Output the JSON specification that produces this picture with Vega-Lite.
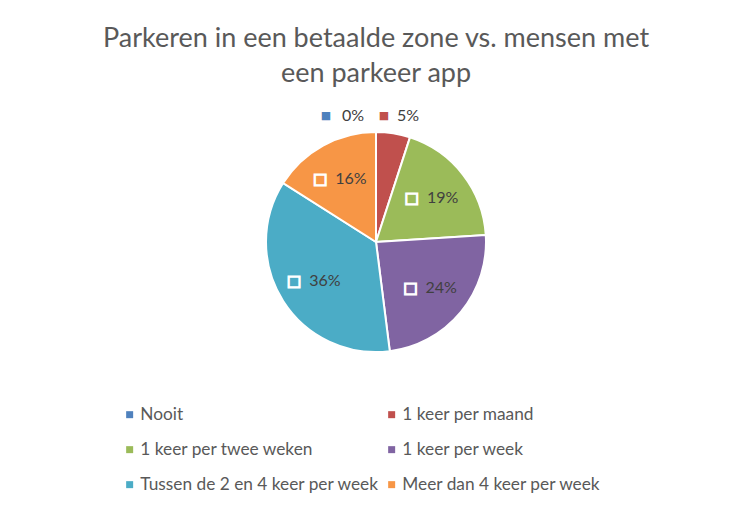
{
  "$schema": "https://vega.github.io/schema/vega-lite/v6.json",
  "autosize": "none",
  "width": 752,
  "height": 284,
  "padding": {"top": 100, "left": 0, "right": 0, "bottom": 128},
  "background": "white",
  "config": {"view": {"stroke": null}},
  "title": {
    "text": ["Parkeren in een betaalde zone vs. mensen met", "een parkeer app"],
    "font": "Lato", "fontSize": 27, "fontWeight": "normal", "color": "#595959",
    "anchor": "middle", "offset": 12, "lineHeight": 35
  },
  "data": {"values": [
    {"nr": 1, "categorie": "Nooit", "aandeel": 0.0},
    {"nr": 2, "categorie": "1 keer per maand", "aandeel": 0.05},
    {"nr": 3, "categorie": "1 keer per twee weken", "aandeel": 0.19},
    {"nr": 4, "categorie": "1 keer per week", "aandeel": 0.24},
    {"nr": 5, "categorie": "Tussen de 2 en 4 keer per week", "aandeel": 0.36},
    {"nr": 6, "categorie": "Meer dan 4 keer per week", "aandeel": 0.16}
  ]},
  "encoding": {
    "theta": {"field": "aandeel", "type": "quantitative", "stack": true},
    "order": {"field": "nr", "type": "quantitative"},
    "color": {
      "field": "categorie", "type": "nominal", "sort": null,
      "scale": {
        "domain": ["Nooit", "1 keer per maand", "1 keer per twee weken", "1 keer per week", "Tussen de 2 en 4 keer per week", "Meer dan 4 keer per week"],
        "range": ["#4F81BD", "#C0504D", "#9BBB59", "#8064A2", "#4BACC6", "#F79646"]
      },
      "legend": {
        "title": null, "orient": "none", "legendX": 121, "legendY": 306,
        "columns": 2, "direction": "horizontal", "symbolType": "square", "symbolSize": 49, "symbolStrokeWidth": 0,
        "labelFont": "Lato", "labelFontSize": 17.3, "labelColor": "#595959",
        "labelOffset": 2, "rowPadding": 17, "columnPadding": 3, "labelLimit": 400
      }
    }
  },
  "layer": [
    {"mark": {"type": "arc", "outerRadius": 110, "stroke": "white", "strokeWidth": 2}},
    {
      "mark": {"type": "text", "radius": 72, "dx": -21, "font": "DejaVu Sans", "fontSize": 15, "stroke": "white", "strokeWidth": 1.4, "baseline": "middle", "align": "center"},
      "encoding": {
        "text": {"value": "□"}, "color": {"value": "white"},
        "opacity": {"condition": {"test": "datum.aandeel < 0.1", "value": 0}, "value": 1}
      }
    },
    {
      "mark": {"type": "text", "radius": 72, "dx": -6, "font": "Lato", "fontSize": 16, "baseline": "middle", "align": "left"},
      "encoding": {
        "text": {"field": "aandeel", "type": "quantitative", "format": ".0%"}, "color": {"value": "#404040"},
        "opacity": {"condition": {"test": "datum.aandeel < 0.1", "value": 0}, "value": 1}
      }
    },
    {
      "mark": {"type": "text", "radius": 126, "dx": -50, "font": "DejaVu Sans", "fontSize": 11, "baseline": "middle", "align": "center"},
      "encoding": {
        "text": {"value": "■"},
        "opacity": {"condition": {"test": "datum.nr != 1", "value": 0}, "value": 1}
      }
    },
    {
      "mark": {"type": "text", "radius": 126, "dx": -34, "font": "Lato", "fontSize": 16, "baseline": "middle", "align": "left"},
      "encoding": {
        "text": {"field": "aandeel", "type": "quantitative", "format": ".0%"}, "color": {"value": "#404040"},
        "opacity": {"condition": {"test": "datum.nr != 1", "value": 0}, "value": 1}
      }
    },
    {
      "mark": {"type": "text", "radius": 128, "dx": -12, "font": "DejaVu Sans", "fontSize": 11, "baseline": "middle", "align": "center"},
      "encoding": {
        "text": {"value": "■"},
        "opacity": {"condition": {"test": "datum.nr != 2", "value": 0}, "value": 1}
      }
    },
    {
      "mark": {"type": "text", "radius": 128, "dx": 1, "font": "Lato", "fontSize": 16, "baseline": "middle", "align": "left"},
      "encoding": {
        "text": {"field": "aandeel", "type": "quantitative", "format": ".0%"}, "color": {"value": "#404040"},
        "opacity": {"condition": {"test": "datum.nr != 2", "value": 0}, "value": 1}
      }
    }
  ]
}
